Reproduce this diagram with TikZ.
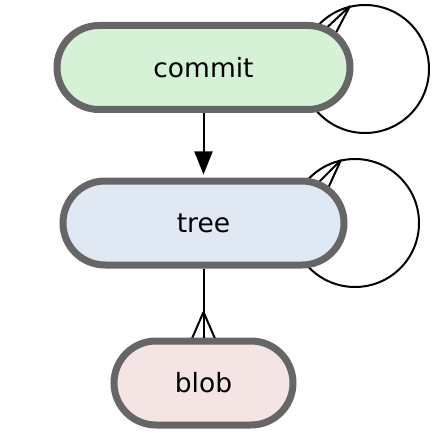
\documentclass[tikz,border=0pt]{standalone}
\usepackage{fontspec}
\setmainfont{DejaVu Sans}
\usetikzlibrary{arrows.meta}
\definecolor{edgegray}{RGB}{102,102,102}
\definecolor{commitfill}{RGB}{214,242,214}
\definecolor{treefill}{RGB}{224,232,244}
\definecolor{blobfill}{RGB}{244,228,228}
\begin{document}
\begin{tikzpicture}[x=1pt,y=-1pt,
  entity/.style={draw=edgegray, line width=7pt, rounded corners=42pt,
    minimum height=84pt, inner sep=0pt, font=\fontsize{26.5}{32}\selectfont},
  link/.style={line width=2pt, draw=black},
]
\useasboundingbox (0,0) rectangle (447,441);

% self-references, drawn first so the boxes hide their inner parts
\coordinate (commit-loop) at (365,69);
\coordinate (commit-foot) at (350,6);
\coordinate (commit-p1) at (320,34);
\coordinate (commit-p2) at (330,44);
\draw[link] (commit-loop) circle[radius=64pt];
\draw[link] (commit-foot) -- (commit-p1);
\draw[link] (commit-foot) -- (commit-p2);

\coordinate (tree-loop) at (355,223);
\coordinate (tree-foot) at (341,160);
\coordinate (tree-p1) at (314,187);
\coordinate (tree-p2) at (324,197);
\draw[link] (tree-loop) circle[radius=64pt];
\draw[link] (tree-foot) -- (tree-p1);
\draw[link] (tree-foot) -- (tree-p2);

% tree -> blob, one-to-many
\coordinate (blob-foot) at (203.5,312);
\coordinate (blob-p1) at (190.5,342);
\coordinate (blob-p2) at (216.5,342);
\draw[link] (blob-foot) -- (blob-p1);
\draw[link] (blob-foot) -- (blob-p2);

% entities
\node[entity, fill=commitfill, minimum width=293pt] (commit) at (203.5,67.5) {commit};
\node[entity, fill=treefill, minimum width=281pt] (tree) at (203.5,223) {tree};
\node[entity, fill=blobfill, minimum width=179pt] (blob) at (203.5,383) {blob};

% connectors
\draw[link, -{Triangle[length=23pt,width=18pt]}, shorten >=3pt] (commit.south) -- (tree.north);
\draw[link] (tree.south) -- (blob.north);
\end{tikzpicture}
\end{document}
